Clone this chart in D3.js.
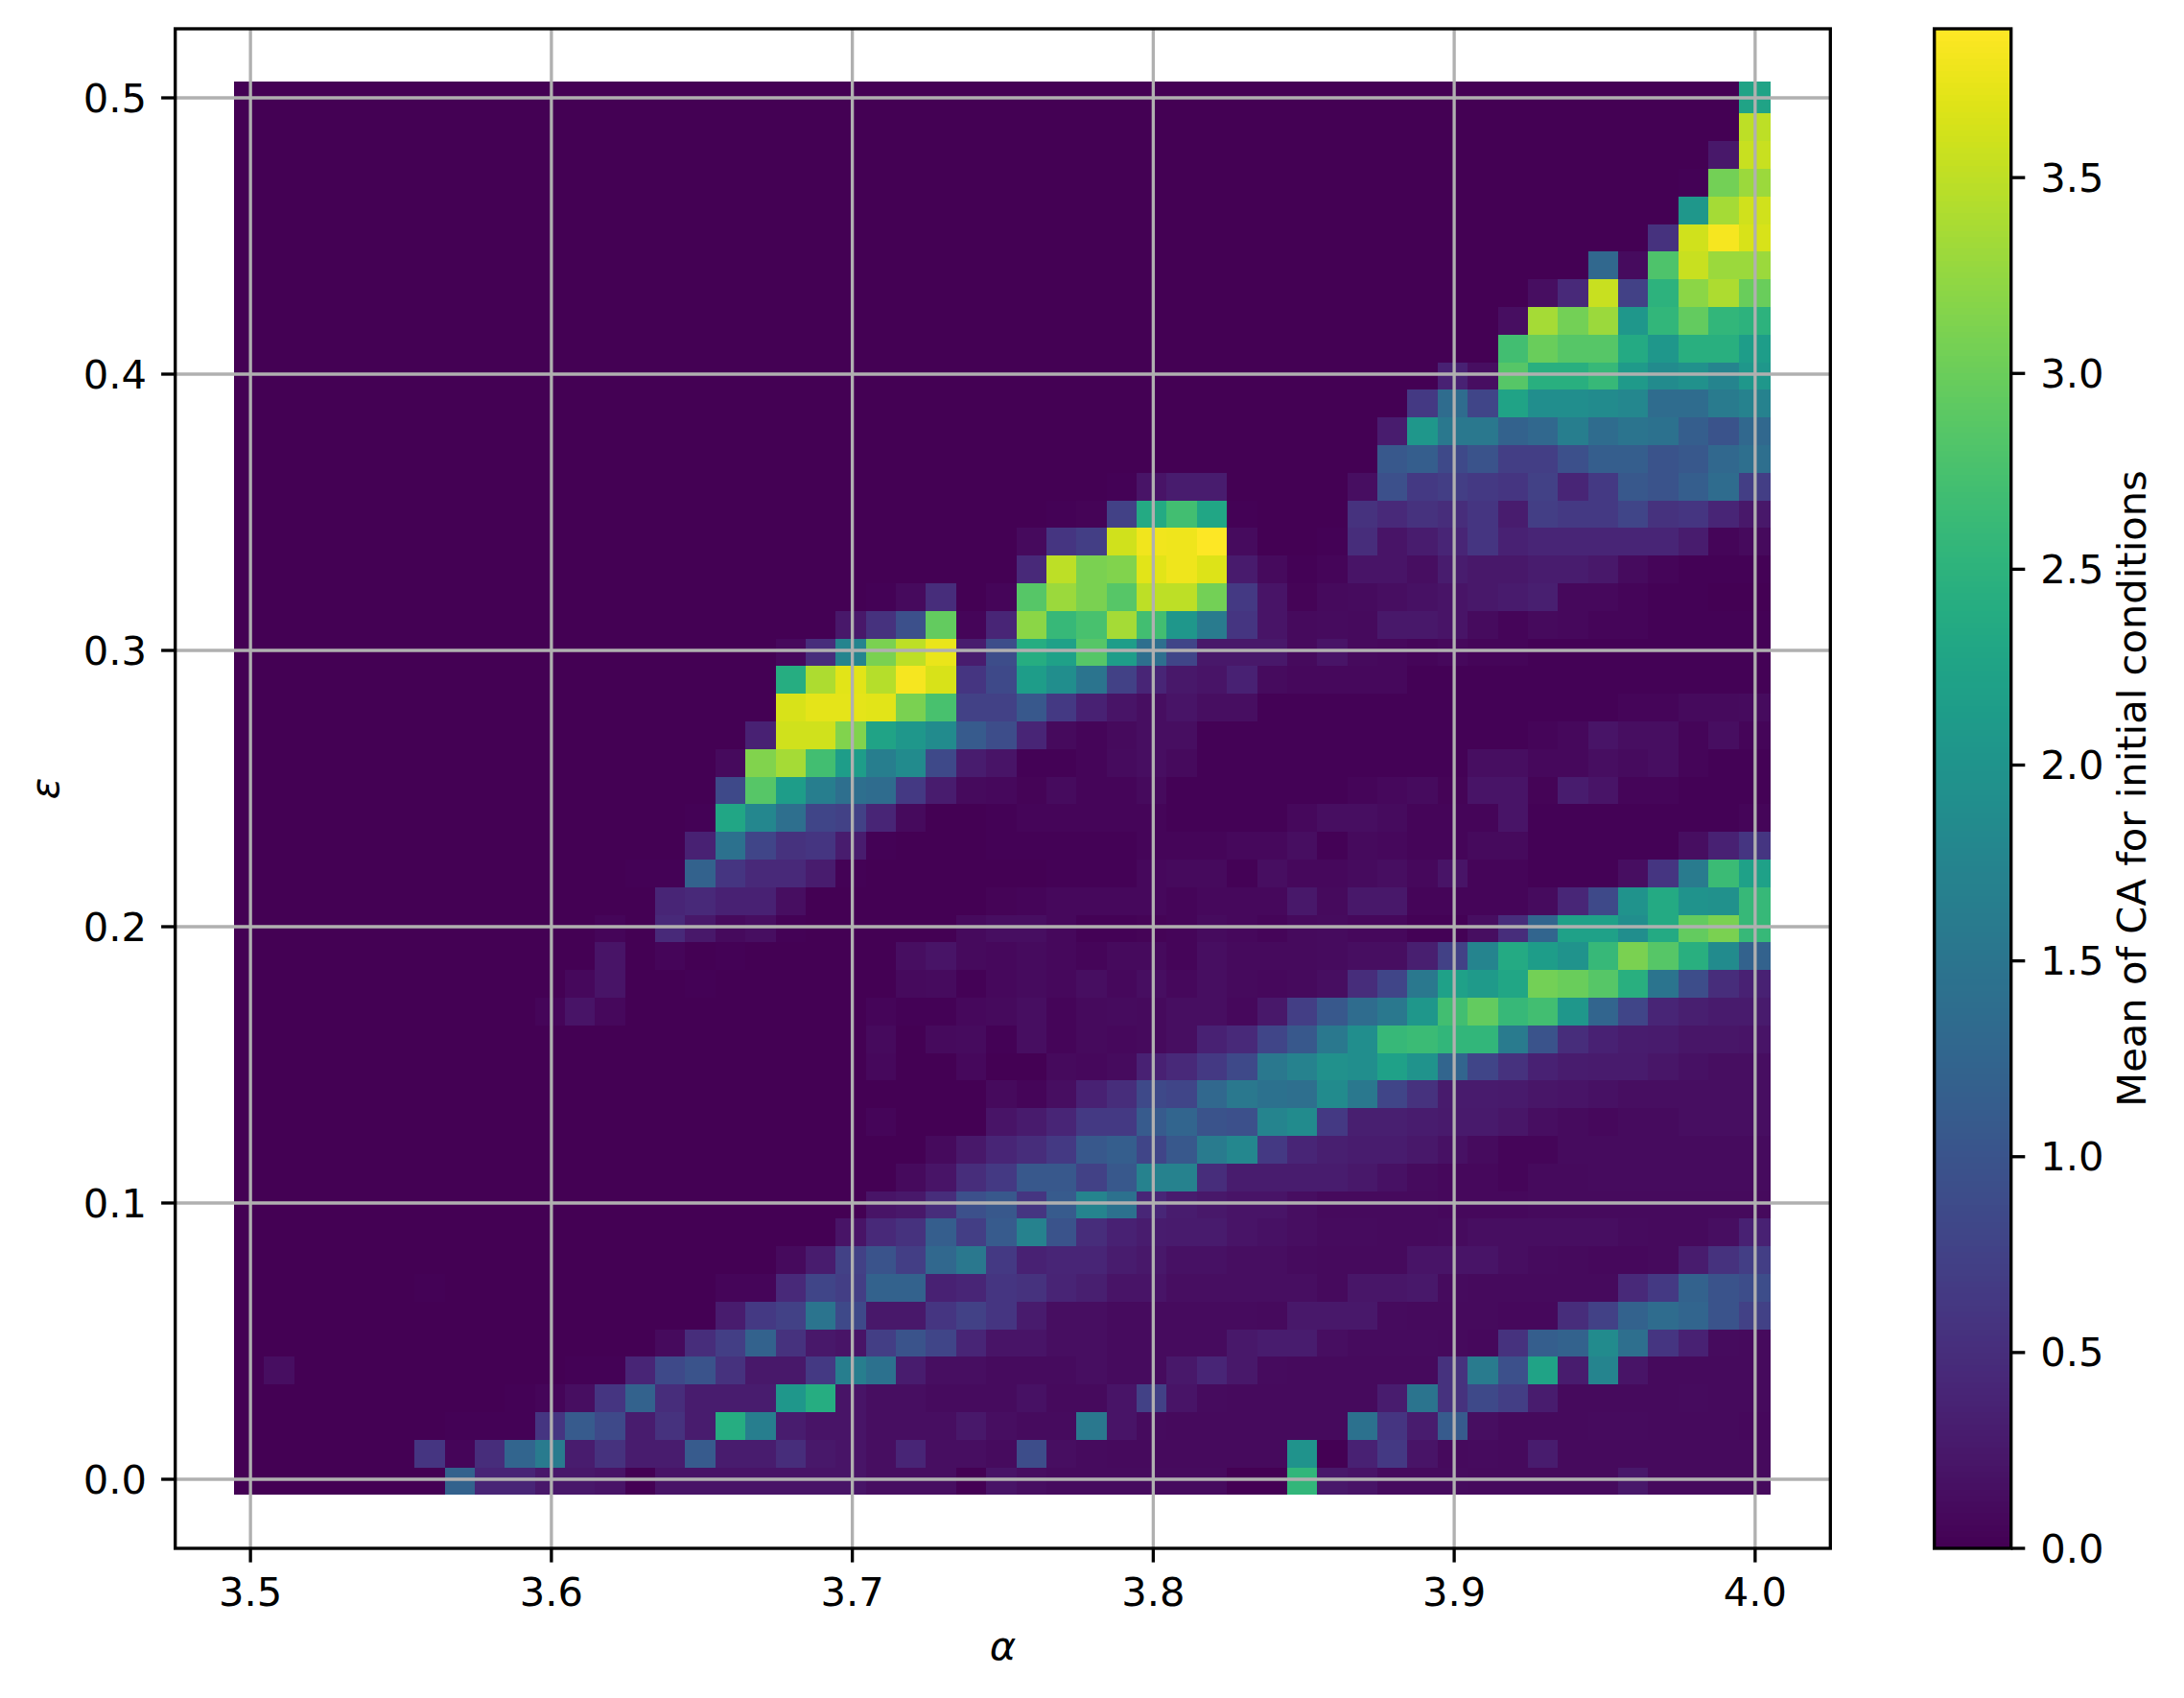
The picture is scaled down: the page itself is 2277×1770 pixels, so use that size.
<!DOCTYPE html>
<html><head><meta charset="utf-8">
<style>html,body{margin:0;padding:0;background:#fff}svg{display:block}text{font-family:"DejaVu Sans";fill:#000}</style>
<script src="https://cdn.jsdelivr.net/npm/d3@7/dist/d3.min.js"></script></head><body><svg id="c" width="2277" height="1770"></svg>
<script>
const alphaValues = d3.range(51).map(i => 3.5 + i * 0.01);
const epsValues = d3.range(51).map(i => i * 0.01);
const xTicks = [3.5, 3.6, 3.7, 3.8, 3.9, 4.0];
const yTicks = [0.0, 0.1, 0.2, 0.3, 0.4, 0.5];
const cbTicks = [0, 0.5, 1, 1.5, 2, 2.5, 3, 3.5];
const cbMax = 3.88;
const xLabel = "α", yLabel = "ε", cbLabel = "Mean of CA for initial conditions";
// first listed column of each row (row 0 = ε 0.00); columns before it are 0
const rowStart = [7,6,7,9,1,14,16,6,18,20,21,22,23,21,25,21,21,10,11,12,12,14,13,15,15,16,16,17,18,18,18,20,21,26,26,27,29,38,38,39,40,42,42,43,45,47,48,48,49,50,50];
const rowValues = [
[1.2,.4,.4,.25,.25,.2,0,.2,.2,.2,.2,.2,.2,.2,.15,.15,.15,0,.2,.15,.12,.12,.12,.12,.12,.12,0,0,2.55,.25,.2,.12,.12,.12,.1,.1,.1,.1,.1,.25,.1,.1,.1,.1],
[.6,.05,.5,1.25,1.6,.3,.55,.3,.3,1.1,.3,.3,.5,.25,.2,.15,.4,.15,.15,.12,.9,.15,.12,.1,.1,.1,.1,.1,.1,2,0,.35,.65,.2,.1,.12,.1,.3,.1,.1,.1,.1,.1,.1,.1],
[.03,.03,.03,.6,1.1,.85,.3,.55,.3,2.4,1.65,.3,.2,.2,.15,.15,.15,.25,.15,.12,.12,1.55,.2,.12,.1,.1,.1,.1,.1,.1,1.45,.6,.3,1.1,.15,.1,.1,.1,.12,.12,.1,.1,.1,.08],
[.03,.05,.15,.6,1.2,.5,.3,.3,.3,2.05,2.4,.2,.15,.15,.12,.12,.12,.18,.1,.1,.2,.75,.2,.12,.1,.1,.1,.1,.1,.3,1.5,.55,.85,.7,.3,.1,.1,.1,.1,.12,.1,.1],
[.15,0,0,0,0,0,0,0,0,0,.03,.03,.4,.85,1,.55,.25,.25,.65,1.65,1.45,.3,.15,.15,.12,.12,.12,.15,.12,.12,.25,.4,.25,.12,.1,.1,.1,.1,.1,.55,1.6,.95,2.25,.3,1.75,.2,.1,.1,.1,.1],
[.1,.5,.7,1.2,.55,.25,.2,.7,1,.8,.4,.2,.2,.15,.15,.12,.12,.12,.12,.25,.3,.3,.15,.12,.12,.12,.1,.08,.55,1.15,1.2,1.85,1.4,.6,.35,.12,.1],
[.3,.65,.75,1.5,.85,.25,.25,.6,.75,.6,.28,.15,.15,.12,.12,.12,.12,.12,.1,.25,.25,.25,.12,.1,.1,.1,.08,.08,.5,.75,1.2,1.35,1.25,1,.75],
[.03,0,0,0,0,0,0,0,0,0,.05,.05,.45,.8,.7,1.2,1.2,.35,.4,.6,.55,.38,.33,.2,.2,.15,.15,.15,.15,.15,.1,.22,.22,.25,.12,.1,.1,.1,.1,.1,.45,.65,1.2,1,.9],
[.1,.3,.75,1,.7,1.3,1.55,.65,.35,.4,.4,.3,.25,.18,.18,.15,.15,.12,.1,.1,.1,.2,.2,.2,.15,.12,.1,.08,.08,.1,.3,.55,.7],
[.2,.45,.55,1.15,.7,1.1,1.7,1,.5,.35,.3,.28,.28,.2,.18,.15,.12,.12,.1,.1,.12,.15,.15,.15,.15,.15,.12,.1,.1,.15,.35],
[.2,.25,.5,.95,1.05,.6,1.1,1.75,1.45,.42,.3,.25,.2,.2,.15,.1,.1,.1,.1,.08,.08,.08,.1,.1,.1,.1,.1,.1,.1,.1],
[.1,.2,.5,.65,1.05,1.05,.75,1.05,1.7,1.7,.5,.3,.3,.3,.3,.25,.18,.12,.08,.08,.06,.1,.1,.12,.12,.12,.12,.12,.12],
[.1,.25,.4,.5,.65,1.05,1.15,.8,1.05,1.6,1.8,.65,.4,.33,.3,.3,.25,.18,.12,.05,.05,.12,.12,.12,.12,.12,.12,.12],
[.05,0,0,0,.2,.28,.4,.65,.65,1.1,1.25,1,.95,1.75,1.85,.65,.33,.33,.3,.27,.27,.22,.15,.12,.08,.12,.12,.15,.15,.15],
[.1,.05,.15,.35,.5,.85,.8,1.3,1.55,1.45,1.4,1.85,1.55,.8,.55,.28,.28,.27,.22,.2,.18,.15,.15,.15,.15,.15],
[.08,0,0,.08,0,0,.1,.08,.12,.35,.45,.65,.85,1.55,1.7,1.95,1.9,2.2,2,1.25,.8,.55,.35,.3,.28,.28,.22,.18,.15,.15],
[.1,0,.1,.12,.02,.15,.05,.1,.08,.1,.15,.35,.45,.8,1.05,1.55,1.9,2.6,2.65,2.55,2.55,1.6,1,.5,.35,.3,.28,.22,.22,.2],
[.05,.2,.08,0,0,0,0,0,0,0,0,.06,.03,.03,.08,.1,.15,.05,.1,.12,.1,.15,.15,.08,.25,.7,1.05,1.35,1.55,2.05,2.7,2.95,2.6,2.7,2.05,1.25,.8,.4,.32,.28,.28],
[.08,.2,0,0,.02,0,0,0,0,0,0,.1,.12,.03,.08,.12,.08,.15,.08,.15,.08,.15,.1,.08,.1,.15,.5,.8,1.55,2.2,2.1,2.3,3.05,3,2.85,2.45,1.5,.9,.5,.35],
[.2,0,.05,0,.02,0,0,0,0,0,.15,.2,.1,.08,.12,.08,.06,.1,.1,.05,.15,.1,.1,.1,.12,.15,.15,.32,.75,1.75,2.35,2.15,2,2.6,3.1,2.85,2.45,1.85,1.2],
[.06,0,.45,.25,.1,.15,.03,0,0,0,0,0,.1,.15,.15,.08,.02,.02,.04,.05,.12,.08,.05,.1,.12,.08,.08,.02,.02,.15,.5,1.25,2.2,2.2,1.9,2.35,2.95,3.1,2.6],
[.4,.45,.35,.35,.15,0,0,0,0,0,0,.04,.05,.08,.08,.08,.08,.05,.08,.08,.08,.25,.1,.25,.25,.05,.05,.05,.05,.12,.42,.85,2,2.35,2,1.95,2.6],
[.03,.02,1.2,.6,.45,.45,.3,.02,0,0,0,0,0,0,.02,.02,.02,.08,.1,.1,.02,.15,.08,.08,.12,.15,.08,.2,.05,.05,.02,.02,.02,.15,.6,1.6,2.65,2.2],
[.35,1.45,.8,.55,.6,.3,.02,0,0,0,.02,.03,.03,.03,.03,.05,.05,.05,.08,.08,.15,.02,.1,.08,.06,.05,.1,.1,.02,.02,.02,.02,.03,.15,.35,.6],
[.03,2.3,1.8,1.4,.8,.75,.4,.1,0,0,.02,.05,.05,.05,.05,.05,.03,.03,.03,.03,.08,.15,.15,.12,.06,.05,.05,.2,.03,.03,.03,.03,.03,.03,.03,.05],
[.85,2.85,2.15,1.65,1.4,1.35,.65,.3,.1,.08,.04,.12,.06,.06,.1,.03,.03,.02,.02,.02,.03,.05,.08,.12,.04,.2,.2,.04,.3,.2,.06,.06,.02,.02,.02],
[.1,3.15,3.35,2.7,2.15,1.65,1.85,.85,.3,.2,.02,.02,.06,.12,.15,.1,.02,.02,.02,.02,.02,.02,.02,.02,.02,.15,.15,.08,.08,.15,.12,.15,.05,.02,.02],
[.35,3.6,3.6,3.15,2.25,2.05,1.85,1.1,.9,.4,.1,.05,.1,.15,.15,.03,.03,.03,.03,.03,.03,.03,.03,.03,.03,.03,.06,.08,.2,.15,.15,.06,.15,.05],
[3.65,3.72,3.72,3.7,3.1,2.75,.75,.75,1.05,.65,.35,.2,.15,.2,.15,.15,.03,.03,.03,.03,.03,.03,.03,.03,.03,.03,.03,.03,.05,.05,.1,.1,.12],
[2.4,3.4,3.7,3.45,3.82,3.65,.6,.85,2.15,1.9,1.5,.75,.4,.25,.2,.35,.12,.08,.08,.08,.08,.03,.03,.03,.03,.03,.03,.03,.03,.03,.03,.03,.03],
[.08,.5,1.75,3.1,3.5,3.75,.3,.9,2.4,2.2,2.85,2.15,1.4,.8,.25,.25,.25,.1,.2,.1,.08,.06,.08,.05,.05,.02,.02,.02,.02,.02,.02,.02,.02],
[.25,.55,.95,2.95,.05,.4,3.2,2.6,2.75,3.35,2.7,2.05,1.6,.6,.2,.1,.12,.1,.25,.25,.2,.12,.06,.1,.08,.06,.05,.02,.02,.02,.02],
[.03,.1,.5,0,.05,2.85,3.3,3.1,2.85,3.5,3.5,3.05,.65,.2,.04,.1,.12,.15,.18,.2,.25,.28,.32,.08,.08,.05,.03,.02,.01,.01],
[.45,3.5,3.1,3.15,3.7,3.78,3.68,.28,.1,.03,.05,.2,.2,.15,.3,.25,.25,.3,.3,.25,.12,.05,.03,.02,.02],
[.1,.6,.7,3.6,3.8,3.78,3.88,.12,0,0,.03,.5,.2,.3,.4,.6,.35,.4,.4,.4,.4,.4,.3,.05,.1],
[.03,.04,.75,2.35,2.7,2.3,.02,0,0,0,.55,.45,.55,.5,.6,.3,.7,.65,.65,.8,.55,.6,.4,.25],
[.03,.2,.3,.3,0,0,0,0,.15,.95,.65,.7,.65,.6,.75,.4,.65,1.05,1,1.15,1.35,.7],
[1.05,1.15,.85,1,.7,.7,.95,1.15,1.15,1,1.05,1.3,1.4],
[.3,2.05,1.55,1.55,1.2,1.3,1.65,1.35,1.5,1.45,1.15,1,1.3],
[.65,1.35,.8,2.25,1.9,1.9,1.85,1.8,1.35,1.35,1.6,1.7],
[.35,.15,2.85,2.45,2.45,2.6,2.1,1.85,1.95,1.75,2.05],
[2.7,3,2.85,2.85,2.35,2.05,2.45,2.45,2.15],
[.15,3.35,3.05,3.3,2.05,2.55,2.95,2.55,2.5],
[.15,.45,3.55,.75,2.5,3.2,3.4,3],
[1.3,.12,2.8,3.55,3.3,3.3],
[.55,3.6,3.82,3.65],
[2.05,3.35,3.6],
[.02,3.05,3.3],
[.25,3.55],
[3.5],
[2.25]
];
rowValues.forEach((r, j) => { if (rowStart[j] + r.length !== 51) throw new Error("row " + j + " len " + r.length + " start " + rowStart[j]); });

const P = {l:182.7, r:1908.3, t:30, b:1614};
const C = {l:2016.7, r:2096.7};
const FS = 41.67, LW = 3.33, TL = 14.6;
const svg = d3.select("#c");
const x = d3.scaleLinear().domain([3.475, 4.025]).range([P.l, P.r]);
const y = d3.scaleLinear().domain([-0.025, 0.525]).range([P.b, P.t]);
const color = d3.scaleSequential(d3.interpolateViridis).domain([0, cbMax]);
const cbY = d3.scaleLinear().domain([0, cbMax]).range([P.b, P.t]);
// mesh edges sit a little below each nominal value, as in the source figure
const xEdges = alphaValues.map(a => a - 0.0055).concat([4.0053]);
const yEdges = epsValues.map(e => e - 0.0057).concat([0.5059]);
const cells = [];
epsValues.forEach((e, j) => alphaValues.forEach((a, i) => {
  const k = i - rowStart[j];
  cells.push({i, j, v: k >= 0 ? rowValues[j][k] : 0});
}));
svg.append("g").attr("shape-rendering", "crispEdges").selectAll("rect").data(cells).join("rect")
  .attr("x", d => x(xEdges[d.i])).attr("width", d => x(xEdges[d.i + 1]) - x(xEdges[d.i]))
  .attr("y", d => y(yEdges[d.j + 1])).attr("height", d => y(yEdges[d.j]) - y(yEdges[d.j + 1]))
  .attr("fill", d => color(d.v));
const grid = svg.append("g").attr("stroke", "#b0b0b0").attr("stroke-width", LW);
grid.selectAll(".gx").data(xTicks).join("line").attr("class", "gx")
  .attr("x1", d => x(d)).attr("x2", d => x(d)).attr("y1", P.t).attr("y2", P.b);
grid.selectAll(".gy").data(yTicks).join("line").attr("class", "gy")
  .attr("y1", d => y(d)).attr("y2", d => y(d)).attr("x1", P.l).attr("x2", P.r);
svg.append("rect").attr("x", P.l).attr("y", P.t).attr("width", P.r - P.l).attr("height", P.b - P.t)
  .attr("fill", "none").attr("stroke", "#000").attr("stroke-width", LW);
const fmt = d3.format(".1f");
function style(g) {
  g.select(".domain").remove();
  g.selectAll(".tick line").attr("stroke", "#000").attr("stroke-width", LW);
  g.selectAll(".tick text").attr("font-size", FS).attr("font-family", '"DejaVu Sans"').attr("fill", "#000");
}
function midDy(g) { g.selectAll(".tick text").attr("dy", "0.35em"); }
svg.append("g").attr("transform", `translate(0,${P.b})`)
  .call(d3.axisBottom(x).tickValues(xTicks).tickFormat(fmt).tickSize(TL).tickPadding(16).offset(0)).call(style);
svg.append("g").attr("transform", `translate(${P.l},0)`)
  .call(d3.axisLeft(y).tickValues(yTicks).tickFormat(fmt).tickSize(TL).tickPadding(15).offset(0)).call(style).call(midDy);
// colour bar
const cbSteps = d3.range(256);
const cbBand = d3.scaleBand().domain(cbSteps).range([P.b, P.t]);
svg.append("g").attr("shape-rendering", "crispEdges").selectAll("rect").data(cbSteps).join("rect")
  .attr("x", C.l).attr("width", C.r - C.l)
  .attr("y", d => cbBand(d) - 0.5).attr("height", cbBand.bandwidth() + 1)
  .attr("fill", d => d3.interpolateViridis(d / 255));
svg.append("rect").attr("x", C.l).attr("y", P.t).attr("width", C.r - C.l).attr("height", P.b - P.t)
  .attr("fill", "none").attr("stroke", "#000").attr("stroke-width", LW);
svg.append("g").attr("transform", `translate(${C.r},0)`)
  .call(d3.axisRight(cbY).tickValues(cbTicks).tickFormat(fmt).tickSize(TL).tickPadding(16).offset(0)).call(style).call(midDy);
// labels
svg.append("text").attr("x", (P.l + P.r) / 2).attr("y", 1730).attr("text-anchor", "middle")
  .attr("font-size", FS).attr("font-style", "italic").text(xLabel);
svg.append("text").attr("transform", `translate(61,${(P.t + P.b) / 2}) rotate(-90)`).attr("text-anchor", "middle")
  .attr("font-size", FS).attr("font-style", "italic").text(yLabel);
svg.append("text").attr("transform", `translate(2237,${(P.t + P.b) / 2}) rotate(-90)`).attr("text-anchor", "middle")
  .attr("font-size", FS).text(cbLabel);
</script>
</body></html>
